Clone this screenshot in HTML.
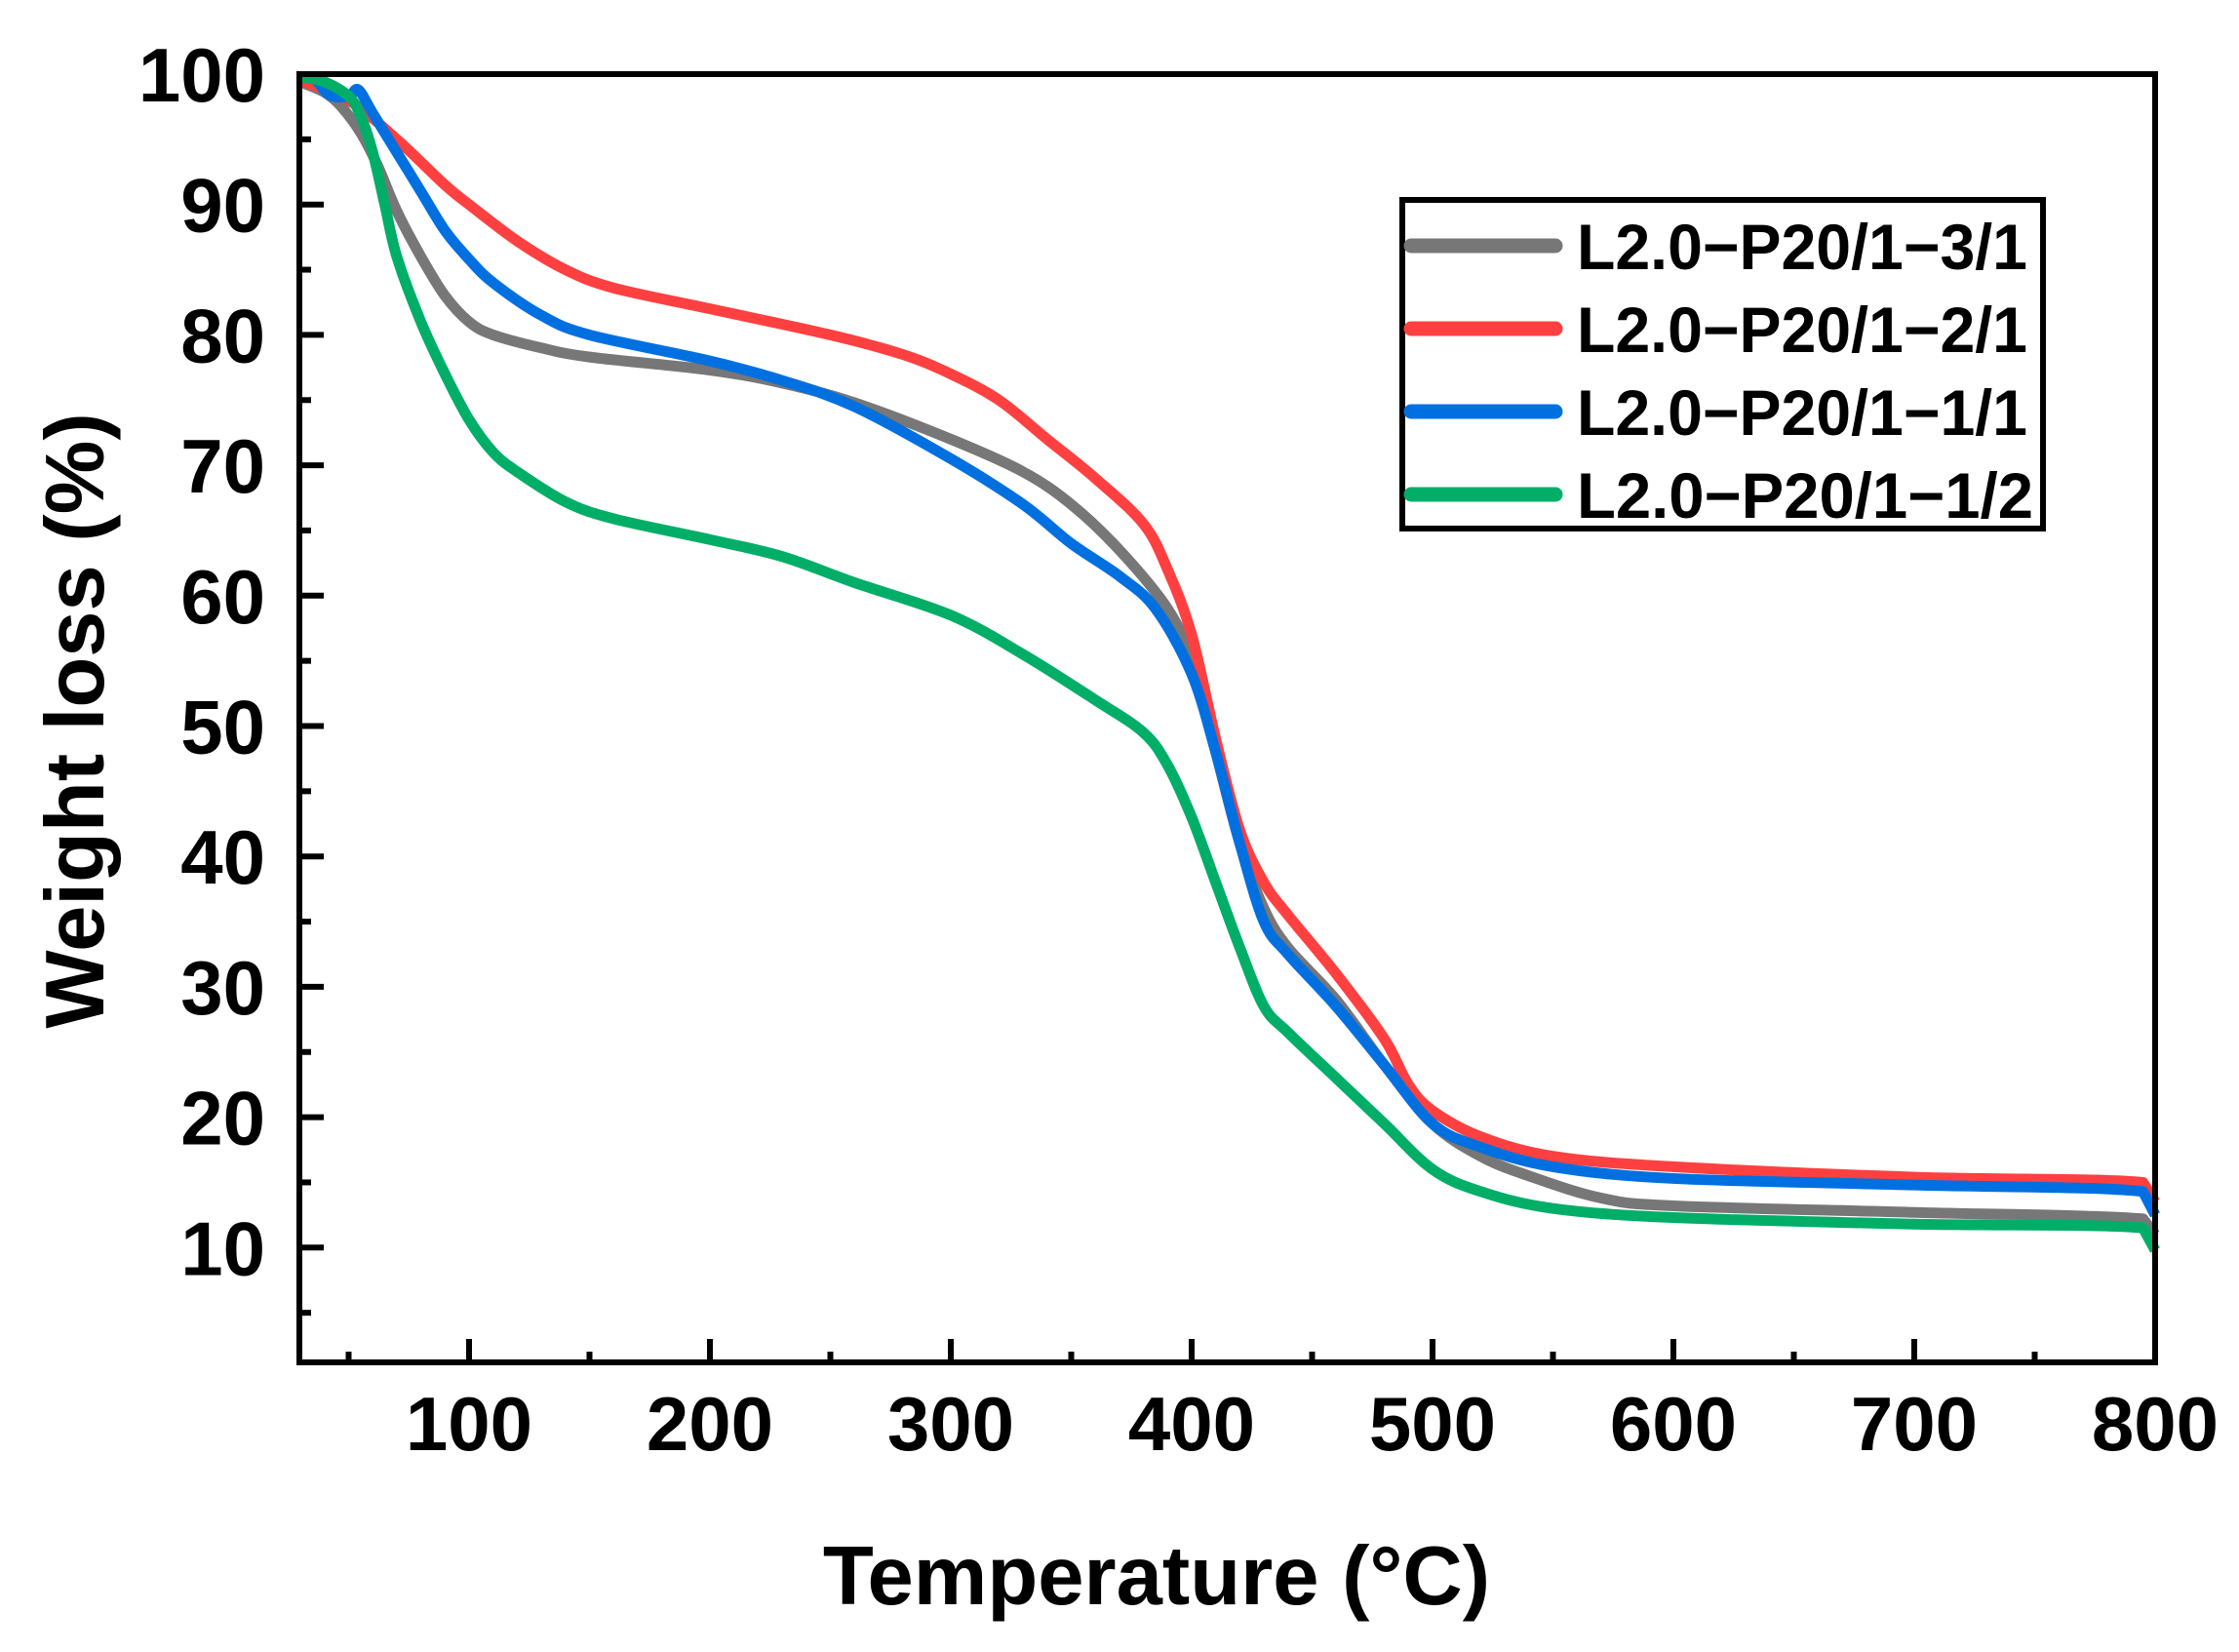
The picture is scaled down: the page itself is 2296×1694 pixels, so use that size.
<!DOCTYPE html>
<html><head><meta charset="utf-8"><style>
html,body{margin:0;padding:0;background:#fff}
svg{display:block}
text{font-family:"Liberation Sans",Arial,sans-serif;font-weight:bold;fill:#000}
</style></head><body>
<svg id="s" width="2296" height="1694" viewBox="0 0 2296 1694" xmlns="http://www.w3.org/2000/svg">
<g id="curves" fill="none" stroke-width="11" stroke-linejoin="round" stroke-linecap="butt"></g>
<g id="axes"></g>
<rect x="307" y="76" width="1903" height="1321" fill="none" stroke="#000" stroke-width="6"/>
<g font-size="77">
<text x="1186" y="1645" font-size="85" text-anchor="middle">Temperature (°C)</text>
<text transform="translate(106,739) rotate(-90)" font-size="85" text-anchor="middle">Weight loss (%)</text>
</g>
<rect x="1438" y="205" width="657" height="337" fill="#fff" stroke="#000" stroke-width="6"/>
<g stroke-width="15" stroke-linecap="round">
<line x1="1447" y1="252" x2="1595" y2="252" stroke="#777777"/>
<line x1="1447" y1="337" x2="1595" y2="337" stroke="#ff4040"/>
<line x1="1447" y1="422" x2="1595" y2="422" stroke="#0070e0"/>
<line x1="1447" y1="507" x2="1595" y2="507" stroke="#00ae68"/>
</g>
<g font-size="66">
<text x="1617" y="276" textLength="462" lengthAdjust="spacingAndGlyphs">L2.0−P20/1−3/1</text>
<text x="1617" y="361" textLength="462" lengthAdjust="spacingAndGlyphs">L2.0−P20/1−2/1</text>
<text x="1617" y="446" textLength="462" lengthAdjust="spacingAndGlyphs">L2.0−P20/1−1/1</text>
<text x="1617" y="531" textLength="468" lengthAdjust="spacingAndGlyphs">L2.0−P20/1−1/2</text>
</g>
</svg>
<script>
var NS="http://www.w3.org/2000/svg";
function X(t){return 2210-(800-t)*2.47;}
function Y(v){return 76+(100-v)*13.37;}
function el(n,a,p,txt){var e=document.createElementNS(NS,n);for(var k in a)e.setAttribute(k,a[k]);if(txt!=null)e.textContent=txt;p.appendChild(e);return e;}
var ax=document.getElementById('axes');
for(var v=5;v<=100;v+=5){var maj=v%10==0;var y=Y(v);
 el('line',{x1:307,x2:307+(maj?25:12),y1:y,y2:y,stroke:'#000','stroke-width':6},ax);
 if(maj) el('text',{x:272,y:y+28,'font-size':78,'text-anchor':'end'},ax,String(v));}
for(var t=50;t<=800;t+=50){var maj=t%100==0;var x=X(t);
 el('line',{x1:x,x2:x,y1:1397,y2:1397-(maj?24:11),stroke:'#000','stroke-width':6},ax);
 if(maj) el('text',{x:x,y:1487,'font-size':78,'text-anchor':'middle'},ax,String(t));}
var data={
'#777777':[[30,99.4],[40,98.6],[47,97.5],[55,95.5],[62,93],[70,89.5],[80,86],[90,83],[100,81],[110,80],[130,79],[150,78.3],[200,77.3],[230,76.3],[260,74.8],[300,72],[330,69.5],[350,67],[370,63.5],[390,59],[400,55],[410,48],[420,41],[430,36],[440,33],[460,29],[480,24],[500,19.5],[520,17],[540,15.5],[570,13.8],[600,13.2],[700,12.7],[795,12.2],[800,11]],
'#ff4040':[[30,99.5],[50,98],[70,95],[90,91.5],[100,90],[120,87.2],[140,85],[160,83.6],[200,82],[250,80],[280,78.5],[300,77],[320,75],[340,72],[360,69],[380,65.5],[390,62],[400,57],[410,49],[420,42],[430,38],[440,35.5],[460,31],[480,26],[490,22.5],[500,20.5],[520,18.5],[550,17],[600,16.2],[700,15.4],[795,15],[800,13.5]],
'#0070e0':[[30,99.8],[36,99.6],[42,98.4],[50,98.3],[54,98.8],[60,97],[70,94],[80,91],[90,88],[100,85.8],[110,84],[130,81.5],[150,80],[200,78],[230,76.5],[260,74.5],[300,70.5],[330,67],[350,64],[370,61.5],[385,59],[400,54],[410,48],[420,41],[430,35],[440,32.5],[460,28.5],[480,24],[500,19.5],[520,17.7],[550,16.2],[600,15.3],[700,14.8],[795,14.3],[800,12.5]],
'#00ae68':[[30,99.8],[40,99.4],[50,98.3],[55,96.8],[60,94],[65,90],[70,86],[80,81],[90,77],[100,73.5],[110,71],[120,69.5],[140,67.2],[160,65.9],[200,64.3],[230,63],[260,61],[300,58.5],[330,55.5],[360,52],[380,49.5],[390,47],[400,43],[410,38],[420,33],[430,28.5],[440,26.5],[460,23],[480,19.5],[500,16],[520,14.3],[550,13],[600,12.3],[700,11.8],[795,11.5],[800,9.8]]};
var g=document.getElementById('curves');
for(var c in data){var p=data[c].map(function(d){return [X(d[0]),Y(d[1])];});
 var d='M'+p[0][0]+','+p[0][1];
 for(var i=0;i<p.length-1;i++){var p0=p[Math.max(0,i-1)],p1=p[i],p2=p[i+1],p3=p[Math.min(p.length-1,i+2)];
  if(i>=p.length-2){d+=' L'+p2[0]+','+p2[1];continue;}
  var c1=[p1[0]+(p2[0]-p0[0])/6,p1[1]+(p2[1]-p0[1])/6],c2=[p2[0]-(p3[0]-p1[0])/6,p2[1]-(p3[1]-p1[1])/6];
  d+=' C'+c1[0]+','+c1[1]+' '+c2[0]+','+c2[1]+' '+p2[0]+','+p2[1];}
 el('path',{d:d,stroke:c},g);}
</script>
</body></html>
